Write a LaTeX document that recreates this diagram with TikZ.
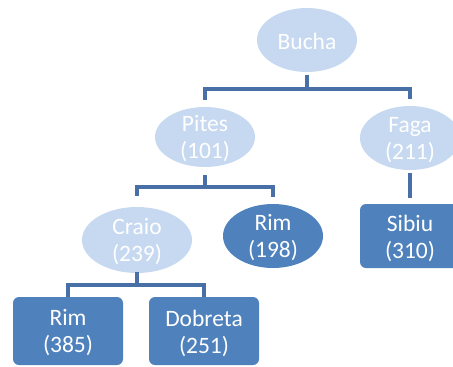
\documentclass[tikz,border=0pt]{standalone}
\usepackage{fontspec}
\setmainfont{Carlito}
\usetikzlibrary{shapes.geometric}
\definecolor{lightnode}{RGB}{198,217,240}
\definecolor{darknode}{RGB}{79,129,189}
\definecolor{linkcol}{RGB}{72,112,166}
\tikzset{
  nodetext/.style={text=white, align=center, inner sep=0pt,
    font=\fontsize{23.5pt}{27pt}\selectfont},
  oval/.style={ellipse, draw=none, inner sep=0pt, minimum width=100pt, minimum height=64pt},
  lightoval/.style={oval, fill=lightnode},
  darkoval/.style={oval, fill=darknode},
  leafbox/.style={rectangle, rounded corners=6pt, fill=darknode, draw=none,
    inner sep=0pt, minimum width=110pt, minimum height=64pt},
  link/.style={draw=linkcol, line width=4pt, line cap=butt},
}
\begin{document}
\begin{tikzpicture}[x=1pt, y=-1pt]
  \useasboundingbox (0,0) rectangle (453,367);
  \clip (0,0) rectangle (453,367);

  % nodes of the tree
  \node[lightoval, label={[nodetext,yshift=-1pt]center:Bucha}] (bucha) at (307,40) {};
  \node[lightoval, minimum height=60pt, label={[nodetext,yshift=-2pt]center:Pites\\(101)}] (pites) at (205,137) {};
  \node[lightoval, label={[nodetext,yshift=-2pt]center:Faga\\(211)}] (faga) at (410,138) {};
  \node[lightoval, minimum width=110pt, minimum height=66pt, label={[nodetext,yshift=-2pt]center:Craio\\(239)}] (craio) at (137,240) {};
  \node[darkoval, label={[nodetext,yshift=-2pt]center:Rim\\(198)}] (rima) at (273,236) {};
  \node[leafbox, minimum width=100pt, label={[nodetext,yshift=-2pt]center:Sibiu\\(310)}] (sibiu) at (410,236) {};
  \node[leafbox, minimum height=68pt, label={[nodetext,yshift=-2pt]center:Rim\\(385)}] (rimb) at (68,331) {};
  \node[leafbox, minimum height=68pt, label={[nodetext,yshift=-2pt]center:Dobreta\\(251)}] (dobreta) at (204,331) {};

  % connectors
  \draw[link] ([yshift=-3pt]bucha.south) -- ++(0,14) coordinate (bfork)
    -| ([yshift=7pt]pites.north);
  \draw[link] (bfork) -| ([yshift=7pt]faga.north);

  \draw[link] ([yshift=-8pt]pites.south) -- ++(0,12) coordinate (pfork)
    -| ([yshift=11pt]craio.north);
  \draw[link] (pfork) -| ([yshift=7pt]rima.north);

  \draw[link] ([yshift=-3pt]faga.south) -- ([yshift=6pt]sibiu.north);

  \draw[link] ([yshift=1pt]craio.south) -- ++(0,13) coordinate (cfork)
    -| (rimb.north);
  \draw[link] (cfork) -| (dobreta.north);
\end{tikzpicture}
\end{document}
